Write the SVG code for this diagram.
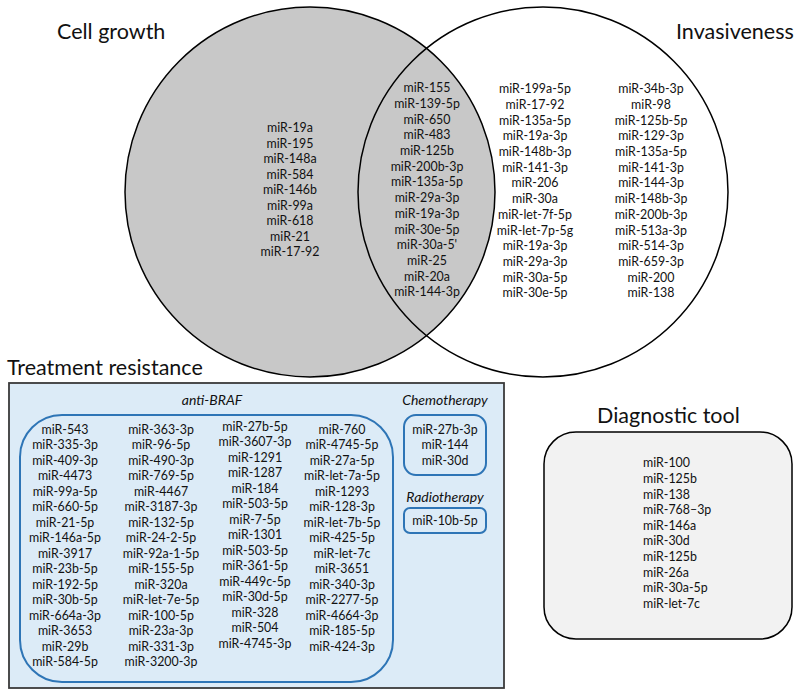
<svg xmlns="http://www.w3.org/2000/svg" width="799" height="694" viewBox="0 0 799 694">
<style>
text{font-family:Lato,"Liberation Sans",sans-serif;fill:#111}
.t{font-size:12.4px;text-anchor:middle}
.tl{font-size:12.4px;text-anchor:start}
.title{font-size:21.5px}
.it{font-size:14px;font-style:italic;text-anchor:middle}
.ring{stroke:#000;stroke-width:1.5}
.blue{fill:none;stroke:#2e75b6;stroke-width:2}
</style>
<rect width="799" height="694" fill="#fff"/>
<g id="venn">
<circle id="cell-growth-set" class="ring" cx="310" cy="192" r="185" fill="#c8c8c8"/>
<circle id="invasiveness-set" class="ring" cx="543" cy="192" r="185" fill="none"/>
</g>
<g id="cell-growth">
<text class="title" x="57" y="39">Cell growth</text>
<text class="t" x="290" y="132.3"><tspan x="290">miR-19a</tspan><tspan x="290" dy="15.5">miR-195</tspan><tspan x="290" dy="15.5">miR-148a</tspan><tspan x="290" dy="15.5">miR-584</tspan><tspan x="290" dy="15.5">miR-146b</tspan><tspan x="290" dy="15.5">miR-99a</tspan><tspan x="290" dy="15.5">miR-618</tspan><tspan x="290" dy="15.5">miR-21</tspan><tspan x="290" dy="15.5">miR-17-92</tspan></text>
</g>
<g id="overlap">
<text class="t" x="427" y="92.3"><tspan x="427">miR-155</tspan><tspan x="427" dy="15.69">miR-139-5p</tspan><tspan x="427" dy="15.69">miR-650</tspan><tspan x="427" dy="15.69">miR-483</tspan><tspan x="427" dy="15.69">miR-125b</tspan><tspan x="427" dy="15.69">miR-200b-3p</tspan><tspan x="427" dy="15.69">miR-135a-5p</tspan><tspan x="427" dy="15.69">miR-29a-3p</tspan><tspan x="427" dy="15.69">miR-19a-3p</tspan><tspan x="427" dy="15.69">miR-30e-5p</tspan><tspan x="427" dy="15.69">miR-30a-5'</tspan><tspan x="427" dy="15.69">miR-25</tspan><tspan x="427" dy="15.69">miR-20a</tspan><tspan x="427" dy="15.69">miR-144-3p</tspan></text>
</g>
<g id="invasiveness">
<text class="title" x="676" y="39">Invasiveness</text>
<text class="t" x="535" y="93.3"><tspan x="535">miR-199a-5p</tspan><tspan x="535" dy="15.69">miR-17-92</tspan><tspan x="535" dy="15.69">miR-135a-5p</tspan><tspan x="535" dy="15.69">miR-19a-3p</tspan><tspan x="535" dy="15.69">miR-148b-3p</tspan><tspan x="535" dy="15.69">miR-141-3p</tspan><tspan x="535" dy="15.69">miR-206</tspan><tspan x="535" dy="15.69">miR-30a</tspan><tspan x="535" dy="15.69">miR-let-7f-5p</tspan><tspan x="535" dy="15.69">miR-let-7p-5g</tspan><tspan x="535" dy="15.69">miR-19a-3p</tspan><tspan x="535" dy="15.69">miR-29a-3p</tspan><tspan x="535" dy="15.69">miR-30a-5p</tspan><tspan x="535" dy="15.69">miR-30e-5p</tspan></text>
<text class="t" x="651" y="93.3"><tspan x="651">miR-34b-3p</tspan><tspan x="651" dy="15.69">miR-98</tspan><tspan x="651" dy="15.69">miR-125b-5p</tspan><tspan x="651" dy="15.69">miR-129-3p</tspan><tspan x="651" dy="15.69">miR-135a-5p</tspan><tspan x="651" dy="15.69">miR-141-3p</tspan><tspan x="651" dy="15.69">miR-144-3p</tspan><tspan x="651" dy="15.69">miR-148b-3p</tspan><tspan x="651" dy="15.69">miR-200b-3p</tspan><tspan x="651" dy="15.69">miR-513a-3p</tspan><tspan x="651" dy="15.69">miR-514-3p</tspan><tspan x="651" dy="15.69">miR-659-3p</tspan><tspan x="651" dy="15.69">miR-200</tspan><tspan x="651" dy="15.69">miR-138</tspan></text>
</g>
<g id="treatment-resistance">
<text class="title" x="7" y="375">Treatment resistance</text>
<rect x="9" y="383" width="495" height="305" fill="#dcebf7" stroke="#3a3a3a" stroke-width="1.8"/>
<g id="anti-braf">
<text class="it" x="212" y="405">anti-BRAF</text>
<rect class="blue" x="20" y="415" width="373" height="267" rx="42" ry="42"/>
<text class="t" x="65" y="433.8"><tspan x="65">miR-543</tspan><tspan x="65" dy="15.5">miR-335-3p</tspan><tspan x="65" dy="15.5">miR-409-3p</tspan><tspan x="65" dy="15.5">miR-4473</tspan><tspan x="65" dy="15.5">miR-99a-5p</tspan><tspan x="65" dy="15.5">miR-660-5p</tspan><tspan x="65" dy="15.5">miR-21-5p</tspan><tspan x="65" dy="15.5">miR-146a-5p</tspan><tspan x="65" dy="15.5">miR-3917</tspan><tspan x="65" dy="15.5">miR-23b-5p</tspan><tspan x="65" dy="15.5">miR-192-5p</tspan><tspan x="65" dy="15.5">miR-30b-5p</tspan><tspan x="65" dy="15.5">miR-664a-3p</tspan><tspan x="65" dy="15.5">miR-3653</tspan><tspan x="65" dy="15.5">miR-29b</tspan><tspan x="65" dy="15.5">miR-584-5p</tspan></text>
<text class="t" x="161" y="433.8"><tspan x="161">miR-363-3p</tspan><tspan x="161" dy="15.5">miR-96-5p</tspan><tspan x="161" dy="15.5">miR-490-3p</tspan><tspan x="161" dy="15.5">miR-769-5p</tspan><tspan x="161" dy="15.5">miR-4467</tspan><tspan x="161" dy="15.5">miR-3187-3p</tspan><tspan x="161" dy="15.5">miR-132-5p</tspan><tspan x="161" dy="15.5">miR-24-2-5p</tspan><tspan x="161" dy="15.5">miR-92a-1-5p</tspan><tspan x="161" dy="15.5">miR-155-5p</tspan><tspan x="161" dy="15.5">miR-320a</tspan><tspan x="161" dy="15.5">miR-let-7e-5p</tspan><tspan x="161" dy="15.5">miR-100-5p</tspan><tspan x="161" dy="15.5">miR-23a-3p</tspan><tspan x="161" dy="15.5">miR-331-3p</tspan><tspan x="161" dy="15.5">miR-3200-3p</tspan></text>
<text class="t" x="255" y="430.8"><tspan x="255">miR-27b-5p</tspan><tspan x="255" dy="15.5">miR-3607-3p</tspan><tspan x="255" dy="15.5">miR-1291</tspan><tspan x="255" dy="15.5">miR-1287</tspan><tspan x="255" dy="15.5">miR-184</tspan><tspan x="255" dy="15.5">miR-503-5p</tspan><tspan x="255" dy="15.5">miR-7-5p</tspan><tspan x="255" dy="15.5">miR-1301</tspan><tspan x="255" dy="15.5">miR-503-5p</tspan><tspan x="255" dy="15.5">miR-361-5p</tspan><tspan x="255" dy="15.5">miR-449c-5p</tspan><tspan x="255" dy="15.5">miR-30d-5p</tspan><tspan x="255" dy="15.5">miR-328</tspan><tspan x="255" dy="15.5">miR-504</tspan><tspan x="255" dy="15.5">miR-4745-3p</tspan></text>
<text class="t" x="342" y="433.8"><tspan x="342">miR-760</tspan><tspan x="342" dy="15.5">miR-4745-5p</tspan><tspan x="342" dy="15.5">miR-27a-5p</tspan><tspan x="342" dy="15.5">miR-let-7a-5p</tspan><tspan x="342" dy="15.5">miR-1293</tspan><tspan x="342" dy="15.5">miR-128-3p</tspan><tspan x="342" dy="15.5">miR-let-7b-5p</tspan><tspan x="342" dy="15.5">miR-425-5p</tspan><tspan x="342" dy="15.5">miR-let-7c</tspan><tspan x="342" dy="15.5">miR-3651</tspan><tspan x="342" dy="15.5">miR-340-3p</tspan><tspan x="342" dy="15.5">miR-2277-5p</tspan><tspan x="342" dy="15.5">miR-4664-3p</tspan><tspan x="342" dy="15.5">miR-185-5p</tspan><tspan x="342" dy="15.5">miR-424-3p</tspan></text>
</g>
<g id="chemotherapy">
<text class="it" x="445" y="405">Chemotherapy</text>
<rect class="blue" x="404" y="415" width="82" height="60" rx="12" ry="12"/>
<text class="t" x="445" y="433.8"><tspan x="445">miR-27b-3p</tspan><tspan x="445" dy="15.5">miR-144</tspan><tspan x="445" dy="15.5">miR-30d</tspan></text>
</g>
<g id="radiotherapy">
<text class="it" x="445" y="502">Radiotherapy</text>
<rect class="blue" x="404" y="508" width="82" height="25" rx="6" ry="6"/>
<text class="t" x="445" y="525">miR-10b-5p</text>
</g>
</g>
<g id="diagnostic-tool">
<text class="title" x="597" y="423">Diagnostic tool</text>
<rect x="544" y="432" width="248" height="207" rx="32" ry="32" fill="#f2f2f2" stroke="#000" stroke-width="1.5"/>
<text class="tl" x="643" y="467.3"><tspan x="643">miR-100</tspan><tspan x="643" dy="15.6">miR-125b</tspan><tspan x="643" dy="15.6">miR-138</tspan><tspan x="643" dy="15.6">miR-768–3p</tspan><tspan x="643" dy="15.6">miR-146a</tspan><tspan x="643" dy="15.6">miR-30d</tspan><tspan x="643" dy="15.6">miR-125b</tspan><tspan x="643" dy="15.6">miR-26a</tspan><tspan x="643" dy="15.6">miR-30a-5p</tspan><tspan x="643" dy="15.6">miR-let-7c</tspan></text>
</g>
</svg>
